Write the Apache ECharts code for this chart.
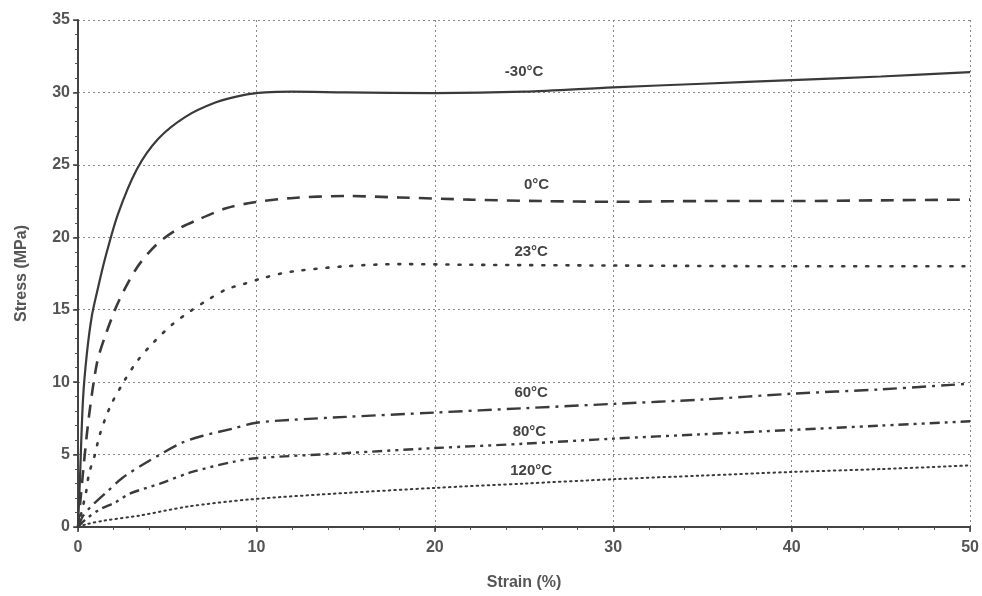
<!DOCTYPE html>
<html>
<head>
<meta charset="utf-8">
<script src="https://cdn.jsdelivr.net/npm/echarts@6/dist/echarts.min.js"></script>
<style>
  html, body { margin: 0; padding: 0; background: #fff; }
  #chart { width: 982px; height: 596px; }
</style>
</head>
<body>
<div id="chart"></div>
<script>
// stress-strain curves at different temperatures, [strain %, stress MPa]
const curveM30 = [[0,0],[0.1,3],[0.28,8.8],[0.5,12],[0.78,14.6],[1.1,16.4],[1.51,18.5],[2.24,21.6],[3.3,24.7],[4.5,26.8],[6,28.3],[7.7,29.3],[9.2,29.8],[10.5,30.0],[12,30.05],[15,30.0],[20,29.95],[25,30.05],[30,30.35],[35,30.6],[40,30.85],[45,31.1],[50,31.4]]
const curve0 = [[0,0],[0.3,4],[0.6,7.5],[1.06,11.3],[1.5,13.1],[2.25,15.5],[3.3,17.9],[4.4,19.5],[5.5,20.5],[6.7,21.2],[8.3,22.0],[9.8,22.4],[11.9,22.7],[15,22.85],[18,22.75],[22,22.6],[26,22.5],[30,22.45],[35,22.5],[40,22.5],[45,22.55],[50,22.6]]
const curve23 = [[0,0],[0.45,2.4],[0.62,3.7],[0.95,5.0],[1.2,6.3],[1.8,8.3],[2.6,10.1],[3.35,11.5],[4.2,12.7],[5.3,14.0],[6.3,14.9],[7.3,15.7],[8.3,16.4],[9.35,16.8],[10.4,17.2],[11.4,17.5],[12.4,17.7],[15,18.0],[18,18.15],[22,18.1],[30,18.05],[40,18.0],[50,18.0]]
const curve60 = [[0,0],[0.3,0.8],[0.8,1.5],[1.6,2.4],[2.5,3.4],[3.9,4.5],[5.8,5.8],[7,6.3],[8.7,6.8],[10,7.2],[12,7.4],[15,7.6],[20,7.9],[25,8.2],[30,8.5],[35,8.8],[40,9.2],[45,9.5],[50,9.9]]
const curve80 = [[0,0],[0.4,0.5],[1.2,1.2],[2.1,1.7],[2.9,2.3],[4.6,3.0],[6.4,3.8],[8.7,4.5],[10,4.75],[15,5.1],[20,5.45],[25,5.75],[30,6.1],[35,6.4],[40,6.7],[45,7.0],[50,7.3]]
const curve120 = [[0,0],[0.5,0.2],[1.5,0.45],[3.5,0.8],[6.1,1.4],[9.6,1.9],[15,2.35],[20,2.7],[25,3.0],[30,3.3],[35,3.55],[40,3.8],[45,4.0],[50,4.25]]

const names = ['-30°C', '0°C', '23°C', '60°C', '80°C', '120°C']
const curves = [curveM30, curve0, curve23, curve60, curve80, curve120]
// where each temperature label sits, in data units
const labelPos = [[25, 31.4], [25.7, 23.6], [25.4, 19.0], [25.4, 9.25], [25.3, 6.55], [25.4, 3.9]]

const lineStyles = [
  { width: 2.2, type: 'solid' },
  { width: 2.6, type: [13, 9] },
  { width: 2.6, type: [2, 10], cap: 'round' },
  { width: 2.4, type: [14, 6, 3, 6] },
  { width: 2.4, type: [10, 5, 3, 5, 3, 5] },
  { width: 2, type: [1.5, 4], cap: 'round' },
]

const chart = echarts.init(document.getElementById('chart'))

const font = 'Liberation Sans, Arial, sans-serif'
const gridLine = { show: true, lineStyle: { color: '#8a8a8a', type: [2, 3], width: 1 } }

chart.setOption({
  animation: false,
  grid: { left: 78, right: 11, top: 20, bottom: 69 },
  xAxis: [
    {
      type: 'value', min: 0, max: 50, interval: 10,
      name: 'Strain (%)', nameLocation: 'middle', nameGap: 48,
      nameTextStyle: { fontFamily: font, fontSize: 16, fontWeight: 'bold', color: '#555' },
      axisLine: { show: true, lineStyle: { color: '#444', width: 2 } },
      axisTick: { show: true, length: 5, lineStyle: { color: '#444', width: 1.5 } },
      minorTick: { show: true, splitNumber: 5, length: 3, lineStyle: { color: '#555' } },
      axisLabel: { fontFamily: font, fontSize: 16, fontWeight: 'bold', color: '#555', margin: 13 },
      splitLine: gridLine,
    },
    {
      type: 'value', min: 0, max: 50, interval: 10, position: 'top',
      axisLine: { show: true, lineStyle: { color: '#444', width: 1.5 } },
      axisTick: { show: true, inside: true, length: 4, lineStyle: { color: '#444' } },
      minorTick: { show: true, splitNumber: 5, length: 3, lineStyle: { color: '#555' } },
      axisLabel: { show: false },
      splitLine: { show: false },
    },
  ],
  yAxis: [
    {
      type: 'value', min: 0, max: 35, interval: 5,
      name: 'Stress (MPa)', nameLocation: 'middle', nameGap: 48,
      nameTextStyle: { fontFamily: font, fontSize: 16, fontWeight: 'bold', color: '#555' },
      axisLine: { show: true, lineStyle: { color: '#444', width: 2 } },
      axisTick: { show: true, length: 5, lineStyle: { color: '#444', width: 1.5 } },
      minorTick: { show: true, splitNumber: 5, length: 3, lineStyle: { color: '#555' } },
      axisLabel: { fontFamily: font, fontSize: 16, fontWeight: 'bold', color: '#555', margin: 8 },
      splitLine: gridLine,
    },
    {
      type: 'value', min: 0, max: 35, interval: 5, position: 'right',
      axisLine: { show: true, lineStyle: { color: '#444', width: 1.5 } },
      axisTick: { show: true, inside: true, length: 4, lineStyle: { color: '#444' } },
      minorTick: { show: true, splitNumber: 5, length: 3, lineStyle: { color: '#555' } },
      axisLabel: { show: false },
      splitLine: { show: false },
    },
  ],
  series: curves.map((data, i) => ({
    name: names[i],
    type: 'line',
    data: data,
    smooth: 0.3,
    showSymbol: false,
    lineStyle: Object.assign({ color: '#3a3a3a' }, lineStyles[i]),
    markPoint: {
      symbol: 'circle', symbolSize: 0,
      label: { show: true, formatter: names[i], fontFamily: font, fontSize: 15, fontWeight: 'bold', color: '#444' },
      data: [{ coord: labelPos[i] }],
    },
  })),
})
</script>
</body>
</html>
